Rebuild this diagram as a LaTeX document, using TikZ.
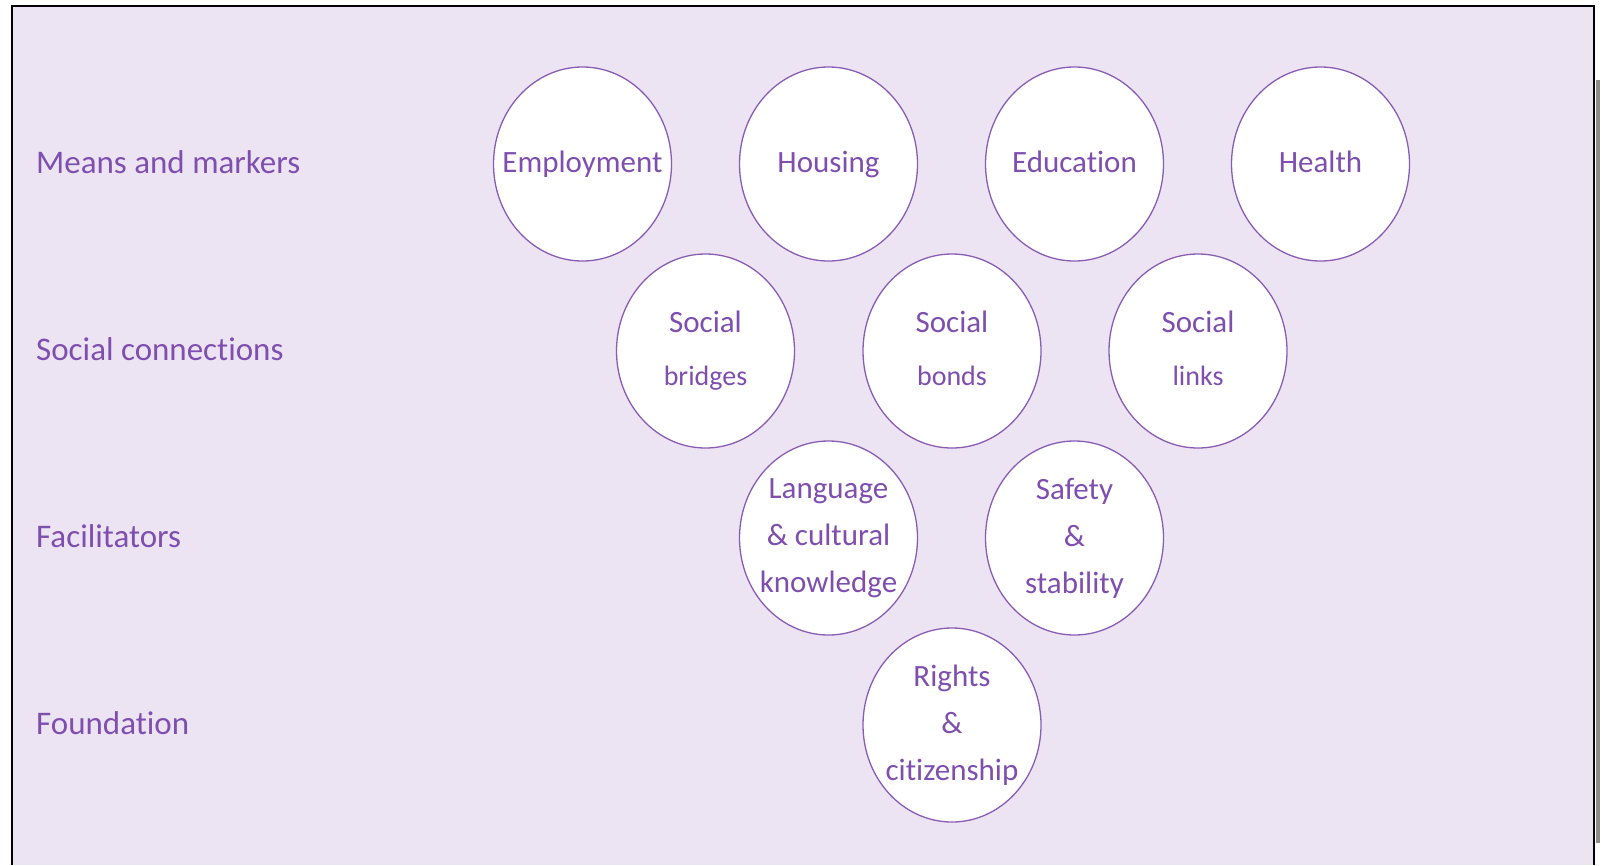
\documentclass[tikz,border=0pt]{standalone}
\usepackage{fontspec}
\setmainfont{Carlito}[Ligatures={NoCommon}]
\usetikzlibrary{shapes.geometric}
\definecolor{bg}{HTML}{ECE4F2}
\definecolor{pur}{HTML}{7E4FAF}
\definecolor{ring}{HTML}{8A5DB5}
\begin{document}
\begin{tikzpicture}[x=1pt,y=-1pt,
  bubble/.style={ellipse, draw=ring, line width=1.3pt, fill=white,
    minimum width=178pt, minimum height=194pt, inner sep=-40pt,
    text=pur, font=\fontsize{31}{47}\selectfont, align=center},
  rowlabel/.style={anchor=base west, text=pur,
    font=\fontsize{33}{38}\selectfont, inner sep=0pt}]
\useasboundingbox (0,0) rectangle (1601,865);
\fill[white] (0,0) rectangle (1601,865);
\fill[black!45] (1596,80) rectangle (1600,843);
\fill[bg] (12,6) rectangle (1594,865);
\draw[black, line width=2.5pt] (12,865) -- (12,6) -- (1594,6) -- (1594,865);

% row labels
\node[rowlabel] (l1) at (36,173) {Means and markers};
\node[rowlabel] (l2) at (36,360) {Social connections};
\node[rowlabel] (l3) at (36,547) {Facilitators};
\node[rowlabel] (l4) at (36,734) {Foundation};

% row 1
\node[bubble] (emp) at (582.5,164) {Employment};
\node[bubble] (hou) at (828.5,164) {Housing};
\node[bubble] (edu) at (1074.5,164) {Education\vphantom{g}};
\node[bubble] (hea) at (1320.5,164) {Health\vphantom{g}};

% row 2
\node[bubble] (sbr) at (705.5,351) {Social\\[6pt]{\fontsize{28}{47}\selectfont bridges}};
\node[bubble] (sbo) at (952,351) {Social\\[6pt]{\fontsize{28}{47}\selectfont bonds\vphantom{g}}};
\node[bubble] (sli) at (1198,351) {Social\\[6pt]{\fontsize{28}{47}\selectfont links\vphantom{g}}};

% row 3
\node[bubble] (lan) at (828.5,538) {Language\\\& cultural\\knowledge};
\node[bubble] (saf) at (1074.5,538) {Safety\\\&\\stability};

% row 4
\node[bubble] (rig) at (952,725) {Rights\\\&\\citizenship};
\end{tikzpicture}
\end{document}
